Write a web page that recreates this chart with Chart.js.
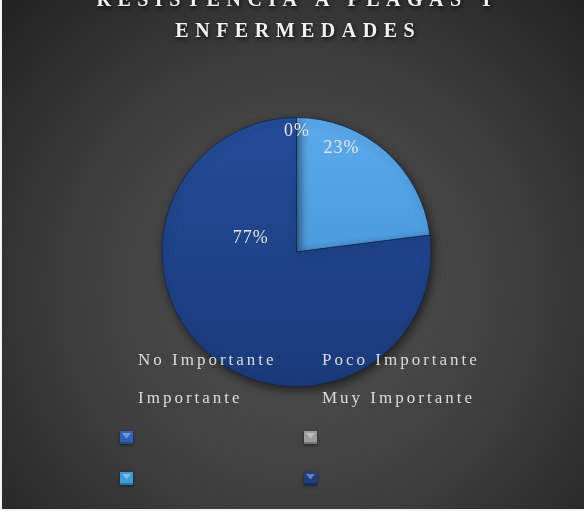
<!DOCTYPE html>
<html>
<head>
<meta charset="utf-8">
<script src="https://cdn.jsdelivr.net/npm/chart.js@4/dist/chart.umd.min.js"></script>
<style>
html,body{margin:0;padding:0;background:#ffffff;}
#wrap{width:584px;height:511px;position:relative;}
canvas{display:block;}
</style>
</head>
<body>
<div id="wrap"><canvas id="c" width="584" height="511"></canvas></div>
<script>
const categories = ['No Importante', 'Poco Importante', 'Importante', 'Muy Importante'];
const values = [0, 0, 23, 77];
const titleLines = ['RESISTENCIA A PLAGAS Y', 'ENFERMEDADES'];

// styling
const markerColors = ['#2f62b6', '#9c9c9c', '#3c9bdb', '#1f3f85'];
const sliceTop = ['#3a6cc4', '#b0b0b0', '#5aaaec', '#244d9a'];
const sliceBottom = ['#2a58a6', '#8a8a8a', '#3e8bd0', '#1a3a7a'];
const showLabel = [true, false, true, true];
const labelPlace = [[0, 0.9], [0, 0.9], [0.28, 0.84], [0.736, 0.36]];

const canvas = document.getElementById('c');

const bgPlugin = {
  id: 'bg',
  beforeDraw(chart) {
    const ctx = chart.ctx, w = chart.width, h = chart.height;
    ctx.save();
    ctx.fillStyle = '#f4f4f4';
    ctx.fillRect(0, 0, w, h);
    const g = ctx.createRadialGradient(300, 290, 10, 300, 290, 400);
    g.addColorStop(0, '#525252');
    g.addColorStop(0.55, '#3e3e3e');
    g.addColorStop(1, '#242424');
    ctx.fillStyle = g;
    ctx.fillRect(2, 0, w - 2, h - 2);
    ctx.restore();
  }
};

const shadowPlugin = {
  id: 'shadow',
  beforeDatasetsDraw(chart) {
    const ctx = chart.ctx;
    ctx.save();
    ctx.shadowColor = 'rgba(0,0,0,0.55)';
    ctx.shadowBlur = 10;
    ctx.shadowOffsetX = 2;
    ctx.shadowOffsetY = 4;
  },
  afterDatasetsDraw(chart) {
    chart.ctx.restore();
  }
};

const overlayPlugin = {
  id: 'overlay',
  afterDatasetsDraw(chart) {
    const ctx = chart.ctx;
    const meta = chart.getDatasetMeta(0);
    // data labels
    ctx.save();
    ctx.font = '18px "Liberation Serif", "Times New Roman", serif';
    ctx.letterSpacing = '1px';
    ctx.fillStyle = '#e6e6e6';
    ctx.textAlign = 'center';
    ctx.textBaseline = 'middle';
    const total = values.reduce((s, v) => s + v, 0);
    meta.data.forEach((arc, i) => {
      if (!showLabel[i]) return;
      const p = arc.getProps(['x', 'y', 'startAngle', 'endAngle', 'outerRadius'], true);
      const a = p.startAngle + labelPlace[i][0] * (p.endAngle - p.startAngle);
      const r = labelPlace[i][1] * p.outerRadius;
      const txt = Math.round(values[i] / total * 100) + '%';
      ctx.fillText(txt, p.x + Math.cos(a) * r + 0.5, p.y + Math.sin(a) * r);
    });
    ctx.restore();

    // legend text
    ctx.save();
    ctx.font = '17px "Liberation Serif", "Times New Roman", serif';
    ctx.letterSpacing = '3px';
    ctx.fillStyle = '#dcdcdc';
    ctx.textAlign = 'left';
    ctx.textBaseline = 'alphabetic';
    const colX = [138, 322];
    const rowY = [365, 403];
    categories.forEach((c, i) => {
      ctx.fillText(c, colX[i % 2], rowY[Math.floor(i / 2)]);
    });
    ctx.restore();

    // legend markers
    const mX = [120, 304];
    const mY = [431, 472];
    categories.forEach((c, i) => {
      const x = mX[i % 2], y = mY[Math.floor(i / 2)], s = 13;
      ctx.save();
      ctx.shadowColor = 'rgba(0,0,0,0.5)';
      ctx.shadowBlur = 3;
      ctx.shadowOffsetY = 1;
      ctx.fillStyle = markerColors[i];
      ctx.fillRect(x, y, s, s);
      ctx.restore();
      ctx.save();
      ctx.fillStyle = 'rgba(255,255,255,0.35)';
      ctx.beginPath();
      ctx.moveTo(x + 2, y + 2);
      ctx.lineTo(x + s - 2, y + 2);
      ctx.lineTo(x + s / 2, y + s / 2 + 1);
      ctx.closePath();
      ctx.fill();
      ctx.fillStyle = 'rgba(0,0,0,0.25)';
      ctx.fillRect(x, y + s - 2, s, 2);
      ctx.restore();
    });
  },
  afterDraw(chart) {
    const ctx = chart.ctx;
    ctx.save();
    ctx.beginPath();
    ctx.rect(2, 0, chart.width - 2, chart.height - 2);
    ctx.clip();
    ctx.font = 'bold 20px "Liberation Serif", "Times New Roman", serif';
    ctx.letterSpacing = '6.5px';
    ctx.fillStyle = '#f2f2f2';
    ctx.textAlign = 'left';
    ctx.textBaseline = 'alphabetic';
    ctx.shadowColor = 'rgba(0,0,0,0.75)';
    ctx.shadowBlur = 4;
    ctx.shadowOffsetX = 1;
    ctx.shadowOffsetY = 2;
    const baselines = [6, 37];
    titleLines.forEach((t, i) => {
      const w = ctx.measureText(t).width - 6.5;
      ctx.fillText(t, 295 - w / 2, baselines[i]);
    });
    ctx.restore();
  }
};

new Chart(canvas, {
  type: 'pie',
  data: {
    labels: categories,
    datasets: [{
      data: values,
      backgroundColor: (c) => {
        const chart = c.chart;
        const area = chart.chartArea;
        if (!area) return sliceTop[c.dataIndex];
        const g = chart.ctx.createLinearGradient(0, area.top, 0, area.bottom);
        g.addColorStop(0, sliceTop[c.dataIndex]);
        g.addColorStop(1, sliceBottom[c.dataIndex]);
        return g;
      },
      borderColor: 'rgba(20,40,80,0.8)',
      borderWidth: 1
    }]
  },
  options: {
    responsive: false,
    animation: false,
    devicePixelRatio: 1,
    layout: { padding: { top: 117, bottom: 124, left: 9, right: 0 } },
    plugins: {
      legend: { display: false },
      title: { display: false },
      tooltip: { enabled: false }
    }
  },
  plugins: [bgPlugin, shadowPlugin, overlayPlugin]
});
</script>
</body>
</html>
